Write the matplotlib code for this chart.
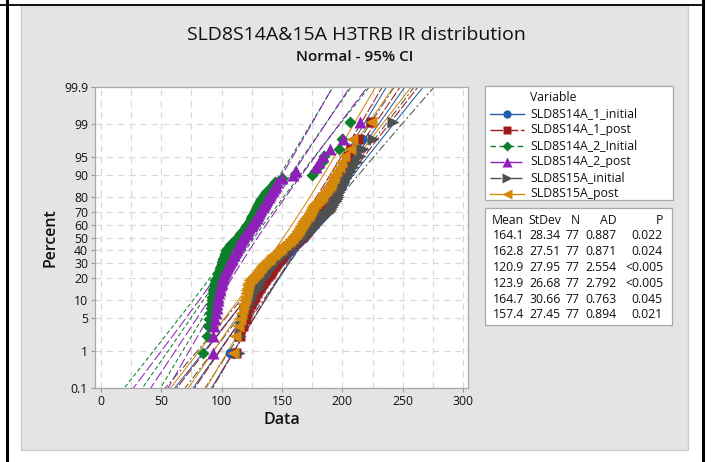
import numpy as np
import matplotlib
matplotlib.use('Agg')
import matplotlib.pyplot as plt
from matplotlib.patches import Rectangle
from matplotlib.lines import Line2D
from statistics import NormalDist

plt.rcParams['font.family'] = ['Open Sans', 'DejaVu Sans']

# ---------------- data ----------------
names = ['SLD8S14A_1_initial', 'SLD8S14A_1_post', 'SLD8S14A_2_Initial',
         'SLD8S14A_2_post', 'SLD8S15A_initial', 'SLD8S15A_post']
means = [164.1, 162.8, 120.9, 123.9, 164.7, 157.4]
stdevs = [28.34, 27.51, 27.95, 26.68, 30.66, 27.45]
ns = [77, 77, 77, 77, 77, 77]
ads = ['0.887', '0.871', '2.554', '2.792', '0.763', '0.894']
pvals = ['0.022', '0.024', '<0.005', '<0.005', '0.045', '0.021']

s14a_1_initial = [107, 114, 117, 119, 121, 123, 125, 126.5, 128, 129.5, 131, 132.5, 134, 135, 136, 137.5,
                  139, 140, 141.5, 143, 144, 145.5, 147, 148, 149.5, 151, 152, 153, 154.5, 156, 157,
                  158, 159.5, 161, 162.5, 164, 165, 166.5, 168, 169, 170, 171.5, 172.5, 173.5, 175, 176, 177,
                  178, 179.5, 181, 182, 183.5, 185, 186, 187, 188.5, 189.5, 190.5, 191.5, 192.5, 193.5, 194.5,
                  195.5, 196.5, 197.5, 198.5, 199.5, 201, 202, 203, 204.5, 206, 208, 210, 212, 216, 223]
s14a_1_post = [112, 115, 118, 120, 121.5, 123, 124.5, 126, 127.5, 129, 130.5, 132, 133, 134.5, 136, 137,
               138.5, 140, 141, 142, 143, 144, 145, 146, 147, 148, 149, 150, 151, 152, 153,
               154.5, 156, 157.5, 159, 160.5, 162, 163.5, 165, 166.5, 168, 169, 170, 171, 172, 173, 174,
               175, 176, 177, 178.5, 180, 181.5, 183, 184.5, 186, 187, 188, 189, 190, 191, 192,
               193, 194, 195, 196, 197, 198, 199, 200, 201, 202, 203.5, 205, 207, 213, 224]
s14a_2_initial = [84.4, 87.7, 89, 90, 90.5, 91, 91.5, 92, 92.5, 93, 93, 93.5, 94, 94.5, 95, 96,
                  97, 97.5, 98, 98.5, 99, 99.5, 100, 100.5, 101, 101.5, 102, 102.5, 103, 103.5, 104,
                  105, 106, 107, 108, 109.5, 111, 112, 113.5, 114.5, 115.5, 116.5, 117.5, 118.5, 119.5, 120.5, 121.5,
                  122.5, 123.5, 124, 124.5, 125.5, 126, 126.5, 127.5, 128.5, 129, 130, 131, 132, 133, 134.5,
                  135.5, 137, 139, 141, 142.5, 144, 150, 175, 177, 180, 183, 185, 197, 200, 206]
s14a_2_post = [92.6, 92.8, 94, 95, 95.5, 96, 96.5, 97, 97.5, 98, 98.5, 99, 99.5, 100, 100.5, 101,
               101.5, 102, 103, 104, 104.5, 105, 106, 107, 108, 108.5, 109, 110, 110.5, 111, 112,
               113, 113.5, 114, 115, 115.5, 116, 117, 118, 119, 120, 121, 121.5, 122, 123, 124, 125,
               126, 127, 128, 129, 129.5, 130, 131, 132, 133, 134, 135, 136, 137, 138, 139,
               140, 141, 142.5, 144, 145, 146, 150, 159, 162, 178, 181, 184, 190, 200.5, 214.5]
s15a_initial = [114.4, 115, 116, 118, 119.5, 121, 122.5, 124, 125.5, 127, 128.5, 130, 131, 132, 133, 134.5,
                136, 137, 138, 139, 140, 141.5, 143, 144.5, 146, 147.5, 149, 150.5, 152, 153.5, 155,
                156.5, 158, 159.5, 161, 162.5, 164, 165.5, 167, 168.5, 170, 171, 172, 173.5, 175, 176, 177,
                178.5, 180, 181.5, 183, 184.5, 186, 188, 189.5, 190.5, 191.5, 192.5, 193.5, 194.5, 195.5, 196,
                196.5, 197, 198, 199, 200, 201.5, 203, 205, 207, 209, 212, 215, 217, 225.5, 242]
s15a_post = [109.2, 111, 113.5, 115, 116, 117, 118, 119, 119.5, 120, 120.5, 121, 121.5, 122, 123, 124,
             126, 127.5, 129, 130, 131.5, 133, 134, 136, 137.5, 139, 140.5, 142, 143.5, 145, 146.5,
             148, 149.5, 151, 152.5, 154, 155.5, 157, 158.5, 159.5, 160.5, 161.5, 162.5, 163.5, 164.5, 165, 165.5,
             166.5, 167.5, 168.5, 169.5, 170.5, 171.5, 172, 173, 174, 175, 176, 177.5, 179, 180.5, 182,
             183.5, 185, 186.5, 188, 189.5, 191, 192, 193, 195, 197, 199, 201, 206, 207.6, 223.6]
series = [s14a_1_initial, s14a_1_post, s14a_2_initial, s14a_2_post, s15a_initial, s15a_post]

x_ticks = [0, 50, 100, 150, 200, 250, 300]
y_ticks = [0.1, 1, 5, 10, 20, 30, 40, 50, 60, 70, 80, 90, 95, 99, 99.9]
y_ticklabels = ['0.1', '1', '5', '10', '20', '30', '40', '50', '60', '70', '80', '90', '95', '99', '99.9']

# ---------------- styles ----------------
colors = ['#1f5fad', '#9e1b1b', '#0d7f2b', '#8e1fb8', '#505050', '#d4880c']
markers = ['o', 's', 'D', '^', '>', '<']
msizes = [7, 7, 6.5, 8.5, 8.5, 8.5]
lstyles = ['-', (0, (9, 2)), (0, (4, 2.5)), (0, (10, 3)), (0, (8, 2.5, 2, 2.5)), '-']
txt = '#111111'

W, H = 712, 462
fig = plt.figure(figsize=(W / 100, H / 100), dpi=100)
fig.patch.set_facecolor('white')

def fx(px):
    return px / W

def fy(py):
    return 1 - py / H

# grey panel
fig.add_artist(Rectangle((fx(21), fy(450)), fx(688) - fx(21), fy(5) - fy(450),
                         transform=fig.transFigure, facecolor='#e4e4e4',
                         edgecolor='#cdcdcd', lw=1.0, zorder=0))
# black frame lines
fig.add_artist(Line2D([0, fx(703)], [fy(4.5), fy(4.5)], transform=fig.transFigure, color='black', lw=1.3))
fig.add_artist(Line2D([fx(6.5), fx(6.5)], [0, 1], transform=fig.transFigure, color='black', lw=2.2))
fig.add_artist(Line2D([fx(703), fx(703)], [0, 1], transform=fig.transFigure, color='black', lw=2.2))

# ---------------- probability axis ----------------
ND = NormalDist()
_inv = np.vectorize(lambda p: ND.inv_cdf(min(max(p / 100.0, 1e-12), 1 - 1e-12)), otypes=[float])
_cdf = np.vectorize(lambda z: ND.cdf(z) * 100.0, otypes=[float])

def fwd(p):
    return _inv(np.asarray(p, dtype=float))

def bwd(z):
    return _cdf(np.asarray(z, dtype=float))

ax = fig.add_axes([fx(95), fy(388), fx(468) - fx(95), fy(87) - fy(388)])
ax.set_facecolor('white')
ax.set_yscale('function', functions=(fwd, bwd))
ax.set_ylim(0.1, 99.9)
ax.set_xlim(-4.7, 304)

ax.set_xticks(x_ticks)
ax.set_xticks([25, 75, 125, 175, 225, 275], minor=True)
ax.set_yticks(y_ticks)
ax.set_yticklabels(y_ticklabels)
ax.yaxis.set_minor_locator(matplotlib.ticker.NullLocator())
ax.tick_params(axis='both', which='major', labelsize=8.8, length=3, color='#9a9a9a',
               labelcolor=txt, pad=2)
ax.tick_params(axis='x', which='minor', length=0)
ax.grid(True, which='both', axis='x', color='#d9d9d9', lw=0.9, ls=(0, (5, 4)))
ax.grid(True, which='major', axis='y', color='#d9d9d9', lw=0.9, ls=(0, (5, 4)))
ax.set_axisbelow(True)
for sp in ax.spines.values():
    sp.set_color('#a8a8a8')
    sp.set_linewidth(0.9)

zgrid = np.linspace(-3.4, 3.4, 200)
pgrid = bwd(zgrid)
for i, vals in enumerate(series):
    mu, sd = means[i], stdevs[i]
    xfit = mu + sd * zgrid
    half = 1.96 * sd * np.sqrt(1.0 / ns[i] + zgrid ** 2 / (2.0 * ns[i]))
    for xx in (xfit, xfit - half, xfit + half):
        ax.plot(xx, pgrid, color=colors[i], lw=0.75, ls=lstyles[i], zorder=2)
for i, vals in enumerate(series):
    v = np.sort(np.asarray(vals, dtype=float))
    n = len(v)
    pp = (np.arange(1, n + 1) - 0.3) / (n + 0.4) * 100
    ax.plot(v, pp, ls='none', marker=markers[i], ms=msizes[i], mfc=colors[i],
            mec='none', zorder=3 + i)

ax.set_xlabel('Data', fontsize=11.5, fontweight='semibold', labelpad=3, color=txt)
ax.set_ylabel('Percent', fontsize=11.5, fontweight='semibold', labelpad=4, color=txt)

# titles
fig.text(fx(356), fy(35), 'SLD8S14A&15A H3TRB IR distribution', ha='center', va='center',
         fontsize=14, fontweight='medium', color=txt)
fig.text(fx(355), fy(57), 'Normal - 95% CI', ha='center', va='center', fontsize=11,
         fontweight='semibold', color=txt)

# ---------------- legend box ----------------
fig.add_artist(Rectangle((fx(485), fy(200)), fx(673) - fx(485), fy(86) - fy(200),
                         transform=fig.transFigure, facecolor='white', edgecolor='#a8a8a8', lw=0.9))
fig.text(fx(530), fy(97.5), 'Variable', ha='left', va='center', fontsize=8.8, color=txt)
for i, nm in enumerate(names):
    yy = 114 + i * 16
    fig.add_artist(Line2D([fx(490), fx(524)], [fy(yy), fy(yy)], transform=fig.transFigure,
                          color=colors[i], lw=1.0, ls=lstyles[i]))
    fig.add_artist(Line2D([fx(507)], [fy(yy)], transform=fig.transFigure, ls='none',
                          marker=markers[i], ms=msizes[i] * 0.85, mfc=colors[i], mec='none'))
    fig.text(fx(530), fy(yy), nm, ha='left', va='center', fontsize=8.8, color=txt)

# ---------------- statistics table ----------------
fig.add_artist(Rectangle((fx(485), fy(325)), fx(672) - fx(485), fy(208) - fy(325),
                         transform=fig.transFigure, facecolor='white', edgecolor='#a8a8a8', lw=0.9))
col_right = [524, 561, 579.5, 617, 663]
headers = ['Mean', 'StDev', 'N', 'AD', 'P']
for cx, hd in zip(col_right, headers):
    fig.text(fx(cx), fy(220), hd, ha='right', va='center', fontsize=8.8, color=txt)
for i in range(len(names)):
    yy = 235.5 + i * 15.9
    row = ['%.1f' % means[i], '%.2f' % stdevs[i], str(ns[i]), ads[i], pvals[i]]
    for cx, t in zip(col_right, row):
        fig.text(fx(cx), fy(yy), t, ha='right', va='center', fontsize=8.8, color=txt)

fig.savefig('out.png', dpi=100, facecolor='white')
